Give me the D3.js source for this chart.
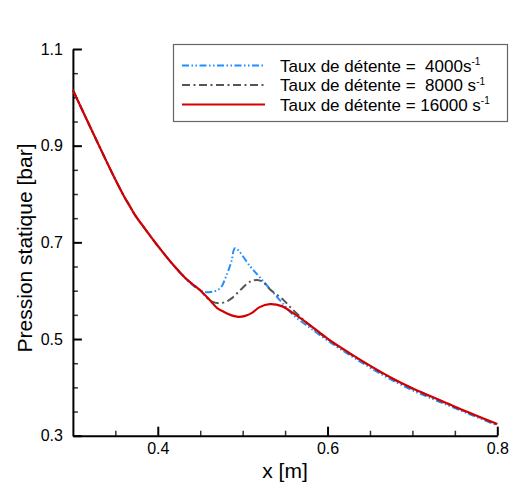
<!DOCTYPE html>
<html><head><meta charset="utf-8">
<script src="https://cdn.jsdelivr.net/npm/d3@7/dist/d3.min.js"></script>
<style>body{margin:0;background:#fff}svg{display:block;font-family:"Liberation Sans",Arial,sans-serif}</style>
</head><body><svg id="c" width="510" height="486"></svg>
<script>
// ---- data ----
const seriesLabels = ["Taux de détente =  4000s", "Taux de détente =  8000 s", "Taux de détente = 16000 s"];
const seriesColors = ["#1f8fff", "#555555", "#d40000"];
const xMajorTicks = [0.4, 0.6, 0.8];
const yMajorTicks = [0.3, 0.5, 0.7, 0.9, 1.1];
const xMinorTicks = [0.35, 0.45, 0.5, 0.55, 0.65, 0.7, 0.75];
const yMinorTicks = [0.35, 0.4, 0.45, 0.55, 0.6, 0.65, 0.75, 0.8, 0.85, 0.95, 1.0, 1.05];

const rate4000 = [
  [0.300,1.015],[0.320,0.940],[0.340,0.866],[0.350,0.830],[0.360,0.796],[0.367,0.775],[0.373,0.757],
  [0.385,0.728],[0.399,0.695],[0.415,0.660],[0.435,0.621],[0.446,0.605],[0.454,0.598],[0.465,0.598],
  [0.474,0.606],[0.481,0.632],[0.487,0.662],[0.491,0.688],[0.509,0.650],[0.520,0.628],[0.535,0.598],
  [0.550,0.568],[0.560,0.549],[0.578,0.525],[0.600,0.497],[0.625,0.468],[0.650,0.441],[0.675,0.416],
  [0.700,0.394],[0.725,0.375],[0.750,0.357],[0.775,0.339],[0.800,0.321]
];
const rate8000 = [
  [0.300,1.015],[0.320,0.940],[0.340,0.866],[0.350,0.830],[0.360,0.796],[0.367,0.775],[0.373,0.757],
  [0.385,0.728],[0.399,0.695],[0.415,0.660],[0.435,0.622],[0.450,0.601],[0.456,0.589],[0.462,0.579],
  [0.472,0.574],[0.480,0.577],[0.487,0.584],[0.497,0.601],[0.509,0.619],[0.517,0.622],[0.524,0.618],
  [0.532,0.603],[0.548,0.581],[0.556,0.566],[0.566,0.549],[0.577,0.531],[0.600,0.500],[0.625,0.471],
  [0.650,0.444],[0.675,0.419],[0.700,0.397],[0.725,0.378],[0.750,0.359],[0.775,0.341],[0.800,0.323]
];
const rate16000 = [
  [0.300,1.015],[0.320,0.940],[0.340,0.866],[0.350,0.830],[0.360,0.796],[0.367,0.775],[0.373,0.757],
  [0.385,0.728],[0.399,0.695],[0.415,0.660],[0.435,0.622],[0.450,0.601],[0.462,0.579],[0.470,0.564],
  [0.478,0.556],[0.487,0.549],[0.495,0.546],[0.503,0.548],[0.511,0.554],[0.520,0.566],[0.532,0.572],
  [0.546,0.568],[0.560,0.553],[0.576,0.533],[0.600,0.501],[0.625,0.472],[0.650,0.445],[0.675,0.420],
  [0.700,0.398],[0.725,0.379],[0.750,0.360],[0.775,0.342],[0.800,0.324]
];

// ---- chart ----
const svg = d3.select("#c");
const x = d3.scaleLinear().domain([0.3, 0.8]).range([72.9, 497.3]);
const y = d3.scaleLinear().domain([0.3, 1.1]).range([435.7, 49]);

// minor ticks
svg.append("g").attr("transform", "translate(72.9,0)")
  .call(d3.axisLeft(y).tickValues(yMinorTicks).tickSize(-5).tickFormat(""))
  .call(g => { g.select(".domain").remove(); g.selectAll("line").attr("stroke", "#333").attr("stroke-width", 1.5); });
svg.append("g").attr("transform", "translate(0,435.7)")
  .call(d3.axisBottom(x).tickValues(xMinorTicks).tickSize(-5).tickFormat(""))
  .call(g => { g.select(".domain").remove(); g.selectAll("line").attr("stroke", "#333").attr("stroke-width", 1.5); });

// major axes
svg.append("g").attr("transform", "translate(72.9,0)")
  .call(d3.axisLeft(y).tickValues(yMajorTicks).tickSize(-9).tickSizeOuter(0).tickPadding(10).tickFormat(d3.format(".1f")))
  .call(g => {
    g.select(".domain").attr("stroke", "#000").attr("stroke-width", 2);
    g.selectAll("line").attr("stroke", "#000").attr("stroke-width", 2);
    g.selectAll("text").attr("font-size", 16).attr("fill", "#000").attr("font-family", "Liberation Sans, Arial, sans-serif");
  });
svg.append("g").attr("transform", "translate(0,435.7)")
  .call(d3.axisBottom(x).tickValues(xMajorTicks).tickSize(-9).tickSizeOuter(0).tickPadding(7).tickFormat(d3.format(".1f")))
  .call(g => {
    g.select(".domain").attr("stroke", "#000").attr("stroke-width", 2);
    g.selectAll("line").attr("stroke", "#000").attr("stroke-width", 2);
    g.selectAll("text").attr("font-size", 16).attr("fill", "#000").attr("font-family", "Liberation Sans, Arial, sans-serif");
  });

// axis titles
svg.append("text").attr("x", 285).attr("y", 478).attr("text-anchor", "middle")
  .attr("font-size", 21).text("x [m]");
svg.append("text").attr("transform", "translate(32,248) rotate(-90)").attr("text-anchor", "middle")
  .attr("font-size", 21).text("Pression statique [bar]");

// curves
const line = d3.line().x(d => x(d[0])).y(d => y(d[1])).curve(d3.curveCatmullRom.alpha(0.5));
const series = [rate4000, rate8000, rate16000];
const dashes = ["7,2.5,1.5,2.5,1.5,2.5", "8,3.5,2,3.5", null];
const widths = [2, 2, 2.2];
series.forEach((s, i) => {
  svg.append("path").datum(s).attr("d", line).attr("fill", "none")
    .attr("stroke", seriesColors[i]).attr("stroke-width", widths[i])
    .attr("stroke-dasharray", dashes[i]);
});

// legend
const lg = svg.append("g");
lg.append("rect").attr("x", 173.5).attr("y", 44.5).attr("width", 334).attr("height", 77)
  .attr("fill", "#fff").attr("stroke", "#666").attr("stroke-width", 1.2);
const rowY = [65.5, 85, 104.5];
seriesLabels.forEach((lab, i) => {
  lg.append("line").attr("x1", 182).attr("x2", 265).attr("y1", rowY[i]).attr("y2", rowY[i])
    .attr("stroke", seriesColors[i]).attr("stroke-width", widths[i]).attr("stroke-dasharray", dashes[i]);
  const t = lg.append("text").attr("x", 280).attr("y", rowY[i] + 6.3).attr("font-size", 17)
    .style("white-space", "pre");
  t.append("tspan").text(lab);
  t.append("tspan").attr("font-size", 10).attr("dy", -6.5).text("-1");
});
</script></body></html>
